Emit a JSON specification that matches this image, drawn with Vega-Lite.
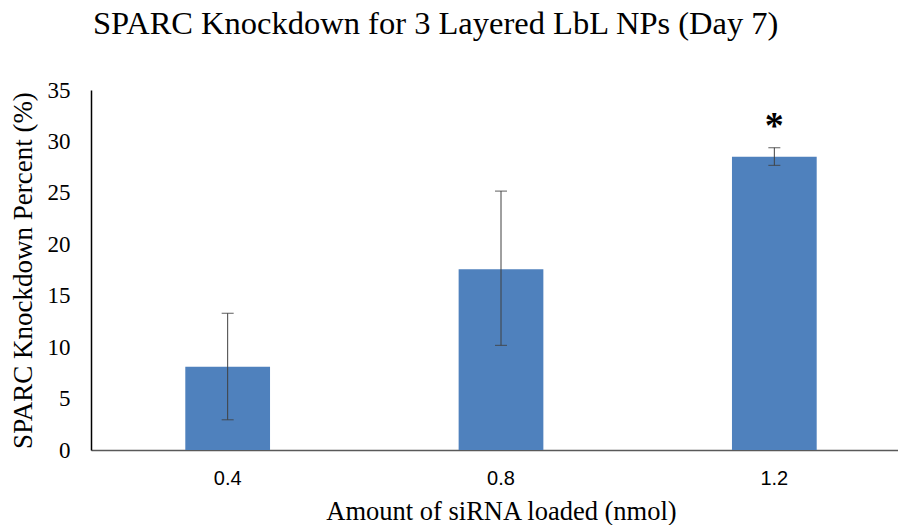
{
  "$schema": "https://vega.github.io/schema/vega-lite/v6.json",
  "autosize": "none",
  "width": 806,
  "height": 360,
  "padding": {"left": 91, "top": 90, "right": 1, "bottom": 75},
  "background": "white",
  "config": {"view": {"stroke": null}, "font": "Liberation Serif"},
  "title": {
    "text": "SPARC Knockdown for 3 Layered LbL NPs (Day 7)",
    "anchor": "start",
    "frame": "group",
    "dx": 2,
    "offset": 39,
    "font": "Liberation Serif",
    "fontSize": 32.5,
    "fontWeight": "normal",
    "color": "#000000"
  },
  "data": {
    "values": [
      {"amount": "0.4", "pct": 8.1, "lo": 2.94, "hi": 13.29, "sig": ""},
      {"amount": "0.8", "pct": 17.57, "lo": 10.17, "hi": 25.17, "sig": ""},
      {"amount": "1.2", "pct": 28.51, "lo": 27.67, "hi": 29.39, "sig": "*"}
    ]
  },
  "encoding": {
    "x": {
      "field": "amount",
      "type": "nominal",
      "sort": null,
      "scale": {"range": [0, 820], "paddingInner": 0.69, "paddingOuter": 0.345},
      "axis": {
        "title": "Amount of siRNA loaded (nmol)",
        "labelAngle": 0,
        "ticks": false,
        "domainColor": "#595959",
        "domainWidth": 1.5,
        "labelFont": "Liberation Sans",
        "labelFontSize": 20,
        "labelColor": "#000000",
        "labelPadding": 18,
        "titleFont": "Liberation Serif",
        "titleFontSize": 26.5,
        "titleFontWeight": "normal",
        "titleColor": "#000000",
        "titlePadding": 10,
        "grid": false
      }
    }
  },
  "layer": [
    {
      "mark": {"type": "bar", "color": "#4F81BD"},
      "encoding": {
        "y": {
          "field": "pct",
          "type": "quantitative",
          "scale": {"domain": [0, 35]},
          "axis": {
            "title": "SPARC Knockdown Percent (%)",
            "values": [0, 5, 10, 15, 20, 25, 30, 35],
            "ticks": false,
            "grid": false,
            "domainColor": "#000000",
            "domainWidth": 1.5,
            "labelFont": "Liberation Serif",
            "labelFontSize": 23,
            "labelColor": "#000000",
            "labelPadding": 21,
            "titleFont": "Liberation Serif",
            "titleFontSize": 27,
            "titleFontWeight": "normal",
            "titleColor": "#000000",
            "titlePadding": 10
          }
        }
      }
    },
    {
      "mark": {"type": "rule", "color": "#404040", "strokeWidth": 1},
      "encoding": {
        "y": {"field": "lo", "type": "quantitative"},
        "y2": {"field": "hi"}
      }
    },
    {
      "mark": {"type": "tick", "color": "#404040", "thickness": 1.2, "size": 12, "orient": "horizontal"},
      "encoding": {"y": {"field": "lo", "type": "quantitative"}}
    },
    {
      "mark": {"type": "tick", "color": "#404040", "thickness": 1.2, "size": 12, "orient": "horizontal"},
      "encoding": {"y": {"field": "hi", "type": "quantitative"}}
    },
    {
      "mark": {"type": "text", "font": "Liberation Serif", "fontSize": 38, "fontWeight": "bold", "color": "#000000", "baseline": "middle", "dy": 6},
      "encoding": {
        "y": {"datum": 32, "type": "quantitative"},
        "text": {"field": "sig"}
      }
    }
  ]
}
